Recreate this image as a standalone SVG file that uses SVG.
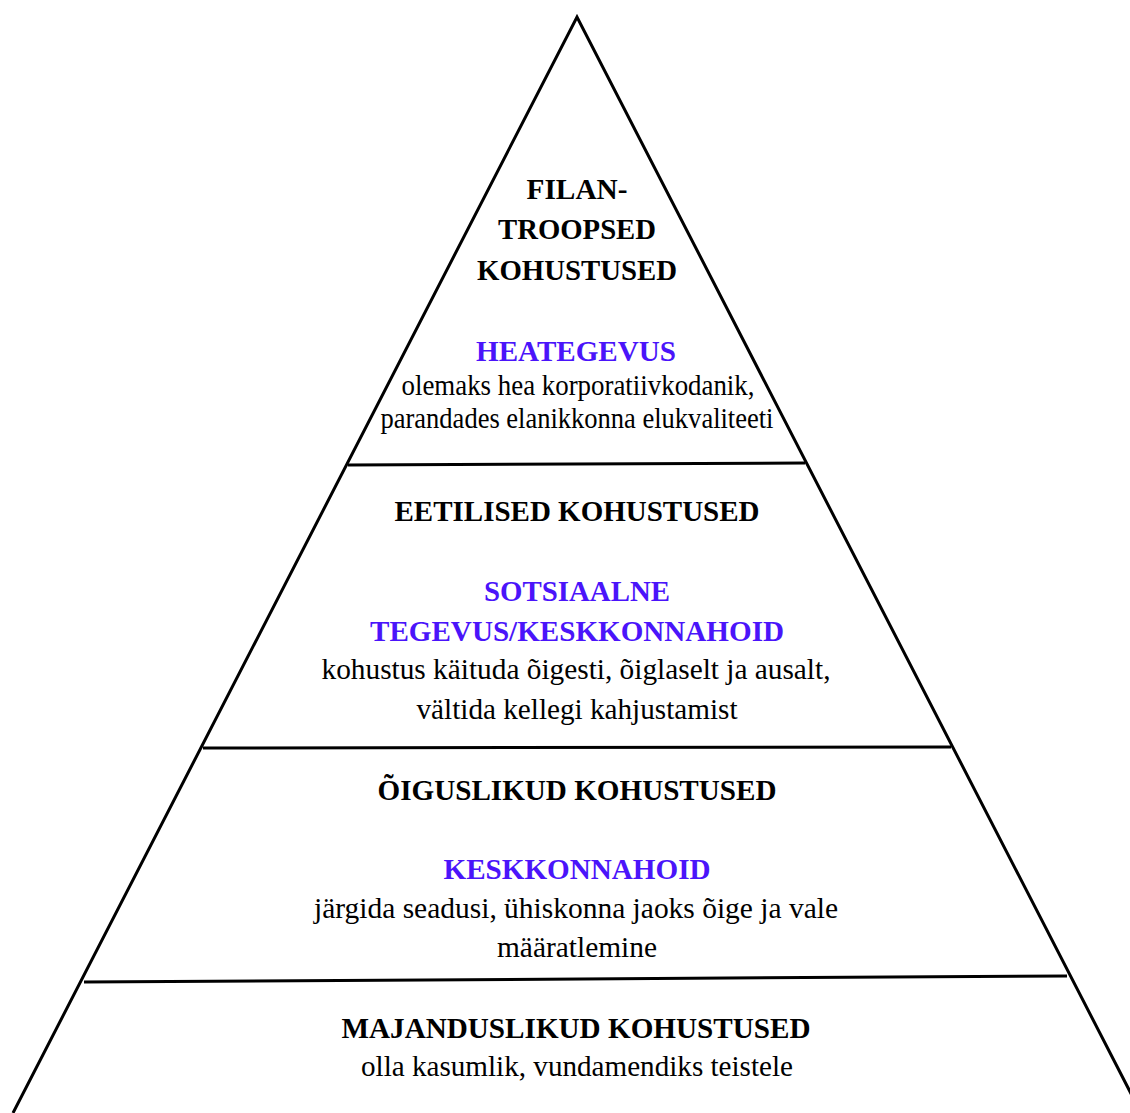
<svg xmlns="http://www.w3.org/2000/svg" width="1130" height="1113" viewBox="0 0 1130 1113">
<style>
text{font-family:"Liberation Serif","Times New Roman",serif;font-size:30px;text-anchor:middle;fill:#000}
.h{font-weight:bold}
.p{font-weight:bold;fill:#4a14fa}
.ln{stroke:#000;stroke-width:3;fill:none;stroke-linecap:butt}
</style>
<rect width="1130" height="1113" fill="#fff"/>
<g id="connectors">
<path class="ln" d="M13,1113 L577,17 L1141,1113" stroke-linejoin="miter"/>
<line class="ln" x1="348" y1="465" x2="805" y2="463"/>
<line class="ln" x1="203" y1="748" x2="951" y2="747"/>
<line class="ln" x1="84" y1="982" x2="1067" y2="976"/>
</g>
<g id="tier-filantroopsed">
<text class="h" x="577" y="199" textLength="101" lengthAdjust="spacingAndGlyphs">FILAN-</text>
<text class="h" x="577" y="239" textLength="158" lengthAdjust="spacingAndGlyphs">TROOPSED</text>
<text class="h" x="577" y="280" textLength="200" lengthAdjust="spacingAndGlyphs">KOHUSTUSED</text>
<text class="p" x="576" y="361" textLength="200" lengthAdjust="spacingAndGlyphs">HEATEGEVUS</text>
<text x="578" y="395" textLength="353" lengthAdjust="spacingAndGlyphs">olemaks hea korporatiivkodanik,</text>
<text x="577" y="428" textLength="393" lengthAdjust="spacingAndGlyphs">parandades elanikkonna elukvaliteeti</text>
</g>
<g id="tier-eetilised">
<text class="h" x="577" y="521" textLength="365" lengthAdjust="spacingAndGlyphs">EETILISED KOHUSTUSED</text>
<text class="p" x="577" y="601" textLength="186" lengthAdjust="spacingAndGlyphs">SOTSIAALNE</text>
<text class="p" x="577" y="641" textLength="414" lengthAdjust="spacingAndGlyphs">TEGEVUS/KESKKONNAHOID</text>
<text x="576" y="679" textLength="509" lengthAdjust="spacingAndGlyphs">kohustus käituda õigesti, õiglaselt ja ausalt,</text>
<text x="577" y="719" textLength="321" lengthAdjust="spacingAndGlyphs">vältida kellegi kahjustamist</text>
</g>
<g id="tier-oiguslikud">
<text class="h" x="577" y="800" textLength="399" lengthAdjust="spacingAndGlyphs">ÕIGUSLIKUD KOHUSTUSED</text>
<text class="p" x="577" y="879" textLength="267" lengthAdjust="spacingAndGlyphs">KESKKONNAHOID</text>
<text x="576" y="918" textLength="524" lengthAdjust="spacingAndGlyphs">järgida seadusi, ühiskonna jaoks õige ja vale</text>
<text x="577" y="957" textLength="160" lengthAdjust="spacingAndGlyphs">määratlemine</text>
</g>
<g id="tier-majanduslikud">
<text class="h" x="576" y="1038" textLength="469" lengthAdjust="spacingAndGlyphs">MAJANDUSLIKUD KOHUSTUSED</text>
<text x="577" y="1076" textLength="432" lengthAdjust="spacingAndGlyphs">olla kasumlik, vundamendiks teistele</text>
</g>
</svg>
